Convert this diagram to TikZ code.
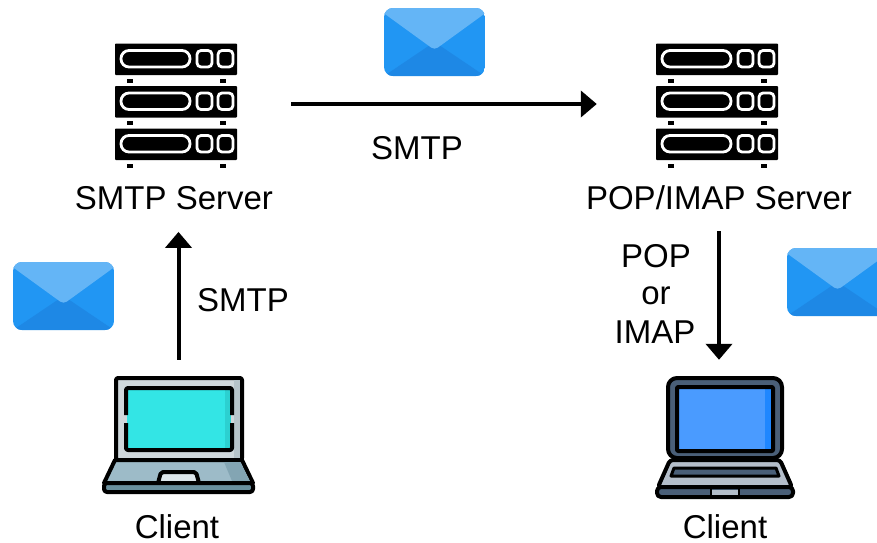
\documentclass[tikz,border=0pt]{standalone}
\usepackage{fontspec}
\setmainfont{Liberation Sans}
\usetikzlibrary{arrows.meta}
\definecolor{envA}{HTML}{2196F3}
\definecolor{envB}{HTML}{1E88E5}
\definecolor{envC}{HTML}{64B5F6}
\definecolor{lidA}{HTML}{CFD8DC}
\definecolor{lidAshade}{HTML}{B6C4CA}
\definecolor{scrC}{HTML}{33E5E5}
\definecolor{scrCshade}{HTML}{2CD0D0}
\definecolor{deckA}{HTML}{9DBBC8}
\definecolor{deckAshade}{HTML}{83A5B3}
\definecolor{padA}{HTML}{DCE6EB}
\definecolor{stripA}{HTML}{6A909E}
\definecolor{slate}{HTML}{4A5F78}
\definecolor{steel}{HTML}{B4BECA}
\definecolor{scrA}{HTML}{4A9BFF}
\definecolor{scrB}{HTML}{1F87FF}
\tikzset{
  lbl/.style={inner sep=0pt,font=\fontsize{33}{38}\selectfont},
  arr/.style={line width=4pt,-{Triangle[length=16pt,width=26pt]}},
  box/.style={inner sep=0pt,minimum width=#1,draw=none},
  ol/.style={draw=black,line width=4pt,line join=round},
  envelope/.pic={
    \begin{scope}
      \clip[rounded corners=9pt] (0,0) rectangle (101,68);
      \fill[envA] (0,0) rectangle (101,68);
      \fill[envB] (0,68) -- (50.5,34) -- (101,68) -- cycle;
      \fill[envC,rounded corners=4pt] (-6,-6) -- (-6,1) -- (50.5,42) -- (107,1) -- (107,-6) -- cycle;
    \end{scope}
  },
  srvunit/.pic={
    \fill[black,rounded corners=0.8pt] (0,0) rectangle (122,31.5);
    \draw[white,line width=2.8pt,rounded corners=8pt] (6,7) rectangle (75,23.5);
    \draw[white,line width=2.8pt,rounded corners=4pt] (82,7) rectangle (97,23.5);
    \draw[white,line width=2.8pt,rounded corners=4pt] (103,7) rectangle (118,23.5);
    \fill[black] (12,35) rectangle (18,39);
    \fill[black] (105,35) rectangle (111,39);
  },
  server/.pic={
    \pic at (0,0) {srvunit};
    \pic at (0,42.5) {srvunit};
    \pic at (0,85) {srvunit};
  }
}
\begin{document}
\begin{tikzpicture}[x=1pt,y=-1pt]
\useasboundingbox (0,0) rectangle (877,542);
\clip (0,0) rectangle (877,542);
\fill[white] (0,0) rectangle (877,542);

% servers
\pic at (115,43.5) {server};
\pic at (656,43.5) {server};
\node[box=122pt,minimum height=124pt] (srvA) at (176,104) {};
\node[box=122pt,minimum height=124pt] (srvB) at (717,104) {};

% envelopes
\pic at (384,8) {envelope};
\pic at (13,262) {envelope};
\pic at (787,248) {envelope};

% left laptop
\draw[ol,fill=lidA,rounded corners=2pt] (116,378) rectangle (242,460);
\fill[lidAshade] (234,380) rectangle (240,458);
\fill[scrC] (127,389) rectangle (231,450);
\fill[scrCshade] (225,389) rectangle (231,450);
\draw[ol,rounded corners=2pt] (126,415) -- (126,388) -- (232,388) -- (232,415);
\draw[ol,rounded corners=2pt] (126,423) -- (126,450) -- (232,450) -- (232,423);
\draw[ol,fill=deckA] (115,460) -- (104,483) -- (253,483) -- (242,460) -- cycle;
\fill[deckAshade] (224,462) -- (240,462) -- (250,481) -- (232,481) -- cycle;
\draw[ol,fill=padA,rounded corners=2pt] (158,483) -- (161,472) -- (196,472) -- (199,483) -- cycle;
\draw[ol,fill=stripA,rounded corners=3pt] (104,483) rectangle (253,492);

% right laptop
\draw[ol,fill=slate,rounded corners=9pt] (668,378) rectangle (782,458);
\fill[scrA] (677,387) rectangle (773,451);
\fill[scrB] (765,387) rectangle (773,451);
\draw[ol,rounded corners=1pt] (677,387) rectangle (773,451);
\draw[ol,fill=steel,rounded corners=3pt] (670,460) -- (780,460) -- (792,487) -- (658,487) -- cycle;
\draw[black,line width=3pt,fill=slate,line join=round] (674,468) -- (776,468) -- (779,476) -- (671,476) -- cycle;
\draw[ol,fill=slate,rounded corners=4pt] (657,487) rectangle (793,497);
\fill[steel] (712,490) rectangle (738,495);
\draw[black,line width=2pt] (711,488) -- (711,496) (739,488) -- (739,496);

% laptop anchors
\node[box=151pt,minimum height=116pt] (lapA) at (178.5,435) {};
\node[box=138pt,minimum height=120pt] (lapB) at (725,437) {};

% labels
\node[lbl] (lblA) at (174,198) {SMTP Server};
\node[lbl] (lblB) at (719,198) {POP/IMAP Server};
\node[lbl] (top) at (417,148) {SMTP};
\node[lbl] (left) at (243,300) {SMTP};
\node[lbl] (pop) at (656,256) {POP};
\node[lbl] (or) at (656,296) {or};
\node[lbl] (imap) at (655,332) {IMAP};
\node[lbl] (cA) at (177,527) {Client};
\node[lbl] (cB) at (725,527) {Client};

% connectors
\draw[arr,shorten <=54pt,shorten >=59pt] (srvA.east) -- (srvB.west);
\draw[arr,shorten <=17pt,shorten >=22pt] (lapA.north) -- (lapA.north |- lblA.south);
\draw[arr,shorten <=21pt,shorten >=17pt] (lblB.south) -- (lblB.south |- lapB.north);
\end{tikzpicture}
\end{document}
